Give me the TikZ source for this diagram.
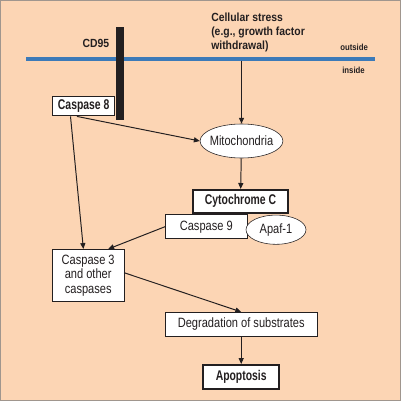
\documentclass[tikz,border=0pt]{standalone}
\usepackage{fontspec}
\setmainfont{Liberation Sans}[FakeStretch=0.82, BoldFeatures={FakeStretch=0.74}]
\newfontfamily\tagfont{Liberation Sans}[FakeStretch=0.88]
\usetikzlibrary{arrows.meta, positioning, shapes.geometric, calc}
\definecolor{peach}{RGB}{252,213,180}
\definecolor{membrane}{RGB}{60,122,184}
\definecolor{ink}{RGB}{35,31,32}
\definecolor{frame}{RGB}{160,150,142}
\tikzset{
	line width = .7pt,
	>={Triangle[length=4.2pt,width=3.6pt]},
	font = \fontsize{9.6}{10.4}\selectfont,
	box/.style={
		draw=ink,
		fill=white,
		rectangle,
		inner sep=0pt,
		text=ink
	},
	strongbox/.style={
		box,
		line width=1.4pt,
		font=\fontsize{10}{11}\selectfont\bfseries
	},
	blob/.style={
		draw=ink,
		fill=white,
		ellipse,
		inner sep=0pt,
		text=ink
	},
	tag/.style={
		text=ink,
		inner sep=0pt,
		font=\tagfont\fontsize{8.4}{10}\selectfont\bfseries
	},
	side/.style={
		text=ink,
		inner sep=0pt,
		font=\tagfont\fontsize{6.3}{7}\selectfont\bfseries
	},
	edge/.style={
		->,
		draw=ink,
		line width=.7pt
	}
}

\begin{document}
\begin{tikzpicture}[x=0.025cm, y=-0.025cm]
	\useasboundingbox (0,0) rectangle (401,401);
	\draw[frame, fill=peach, line width=1pt] (0.5,0.5) rectangle (400.5,400.5);

	% membrane and receptor
	\draw[membrane, line width=2.8pt] (26,59) -- (375,59);
	\fill[ink] (115.5,27) rectangle (124,120);
	\coordinate (stress) at (241.5,60.5);

	\node[tag, anchor=base east] at (109.5,47.7) (cd95) {CD95};
	\node[tag, anchor=base west, align=left] at (211,49.3) (cell) {Cellular stress\\(e.g., growth factor\\withdrawal)};
	\node[side, anchor=base west] at (340,50.7) (out) {outside};
	\node[side, anchor=base west] at (342,73.3) (in) {inside};

	\node[strongbox, minimum width=1.55cm, minimum height=0.48cm, line width=.7pt] at (83.7,106.3) (c8) {Caspase 8};
	\node[blob, minimum width=2.05cm, minimum height=0.85cm, inner xsep=-1.7pt] at (241.5,141) (mito) {Mitochondria};
	\node[strongbox, minimum width=2.36cm, minimum height=0.57cm] at (240.5,201.3) (cytc) {Cytochrome C};
	\node[box, minimum width=2.05cm, minimum height=0.6cm] at (206.3,226.7) (c9) {Caspase 9};
	\node[blob, minimum width=1.5cm, minimum height=0.73cm] at (276,229.7) (apaf) {Apaf-1};
	\node[box, minimum width=1.78cm, minimum height=1.31cm, align=center] at (88.2,275.5) (c3) {Caspase 3\\and other\\caspases};
	\node[box, minimum width=3.78cm, minimum height=0.59cm] at (241.2,324) (degr) {Degradation of substrates};
	\node[strongbox, minimum width=1.89cm, minimum height=0.61cm] at (241.2,377.2) (apop) {Apoptosis};

	\draw[edge] (stress) to (mito);
	\draw[edge] ([xshift=-0.33cm]c8.south) to ([xshift=-0.12cm]c3.north);
	\draw[edge] ([xshift=-0.17cm]c8.south) to (mito.west);
	\draw[edge] (mito) to (cytc);
	\draw[edge] (c9.west) to ([xshift=0.5cm]c3.north);
	\draw[edge] ([yshift=0.07cm]c3.east) to (degr.north);
	\draw[edge] (degr) to (apop);
\end{tikzpicture}
\end{document}
